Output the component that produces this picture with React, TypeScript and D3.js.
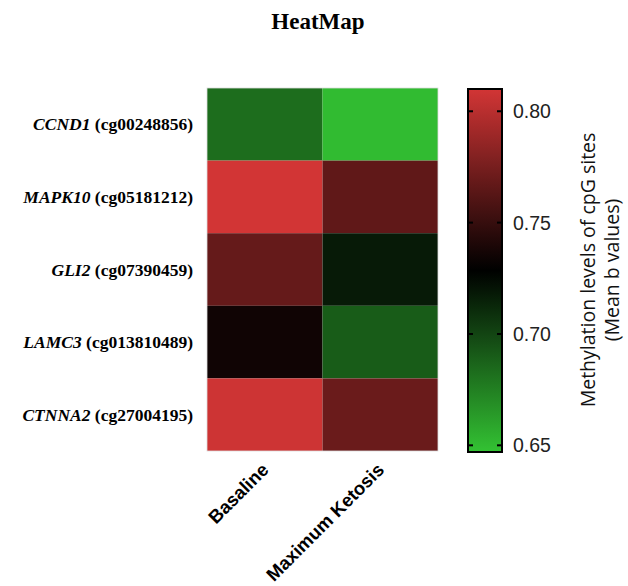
import React from "react";
import * as d3 from "d3";

const genes = ["CCND1", "MAPK10", "GLI2", "LAMC3", "CTNNA2"];
const probes = ["cg00248856", "cg05181212", "cg07390459", "cg013810489", "cg27004195"];
const groups = ["Basaline", "Maximum Ketosis"];
const basaline = [0.683, 0.81, 0.768, 0.735, 0.808];
const maxKetosis = [0.65, 0.766, 0.718, 0.69, 0.77];
const colorTicks = [0.65, 0.7, 0.75, 0.8];

const width = 628;
const height = 586;
const hm = { left: 207, right: 438, top: 88, bottom: 451 };
const bar = { left: 468, right: 502, top: 89, bottom: 452 };

const App: React.FC = () => {
    const x = d3.scaleBand().domain(groups).range([hm.left, hm.right]);
    const y = d3.scaleBand().domain(genes).range([hm.top, hm.bottom]);

    const color = d3.scaleLinear<string>()
        .domain([0.647, 0.729, 0.81])
        .range(["#33c233", "#000000", "#d23535"])
        .interpolate(d3.interpolateRgb)
        .clamp(true);

    const cy = d3.scaleLinear().domain([0.647, 0.81]).range([bar.bottom, bar.top]);

    const cells = genes.flatMap((g, i) => [
        { gene: g, group: groups[0], value: basaline[i] },
        { gene: g, group: groups[1], value: maxKetosis[i] },
    ]);

    const stops = d3.range(0, 1.0001, 0.05).map(t => {
        const v = 0.647 + t * (0.81 - 0.647);
        return { offset: t, color: color(v) };
    });

    const sans = "'Liberation Sans', Arial, sans-serif";
    const serif = "'Liberation Serif', 'Times New Roman', serif";

    return (
        <svg width={width} height={height} style={{ position: "absolute", left: 0, top: 0 }}>
            <defs>
                <linearGradient id="cbar" x1="0" y1="1" x2="0" y2="0">
                    {stops.map((s, i) => (
                        <stop key={i} offset={s.offset} stopColor={s.color} />
                    ))}
                </linearGradient>
            </defs>
            <rect width={width} height={height} fill="#fff" />

            <text x={318} y={29} textAnchor="middle" fontFamily={serif} fontWeight="bold" fontSize={23}>
                HeatMap
            </text>

            {cells.map((c, i) => (
                <rect
                    key={i}
                    x={x(c.group)}
                    y={y(c.gene)}
                    width={x.bandwidth()}
                    height={y.bandwidth()}
                    fill={color(c.value)}
                />
            ))}
            <rect x={hm.left} y={hm.top} width={hm.right - hm.left} height={hm.bottom - hm.top}
                fill="none" stroke="#ddd" strokeWidth={0.8} />

            {genes.map((g, i) => (
                <text key={g} x={hm.left - 14} y={(y(g) as number) + y.bandwidth() / 2 + 6}
                    textAnchor="end" fontFamily={serif} fontWeight="bold" fontSize={17.5}>
                    <tspan fontStyle="italic">{g}</tspan> ({probes[i]})
                </text>
            ))}

            {groups.map(g => {
                const cx = (x(g) as number) + x.bandwidth() / 2 + 5;
                const ty = hm.bottom + 20;
                return (
                    <text key={g} transform={`translate(${cx},${ty}) rotate(-45)`}
                        textAnchor="end" fontFamily={sans} fontWeight="bold" fontSize={18.5}>
                        {g}
                    </text>
                );
            })}

            <rect x={bar.left} y={bar.top} width={bar.right - bar.left} height={bar.bottom - bar.top}
                fill="url(#cbar)" stroke="#000" strokeWidth={2} />
            {colorTicks.map(t => (
                <g key={t}>
                    <line x1={bar.left} x2={bar.left + 5} y1={cy(t)} y2={cy(t)} stroke="#000" strokeWidth={2} />
                    <line x1={bar.right - 5} x2={bar.right} y1={cy(t)} y2={cy(t)} stroke="#000" strokeWidth={2} />
                    <text x={bar.right + 11} y={cy(t) + 7} fontFamily={sans} fontSize={19.5} fill="#222">
                        {d3.format(".2f")(t)}
                    </text>
                </g>
            ))}

            <g transform={`translate(595,270) rotate(-90)`} fontFamily="'Open Sans', sans-serif" fontSize={19.5} fill="#111">
                <text x={0} y={0} textAnchor="middle">Methylation levels of cpG sites</text>
                <text x={0} y={24} textAnchor="middle">(Mean b values)</text>
            </g>
        </svg>
    );
};

export default App;
